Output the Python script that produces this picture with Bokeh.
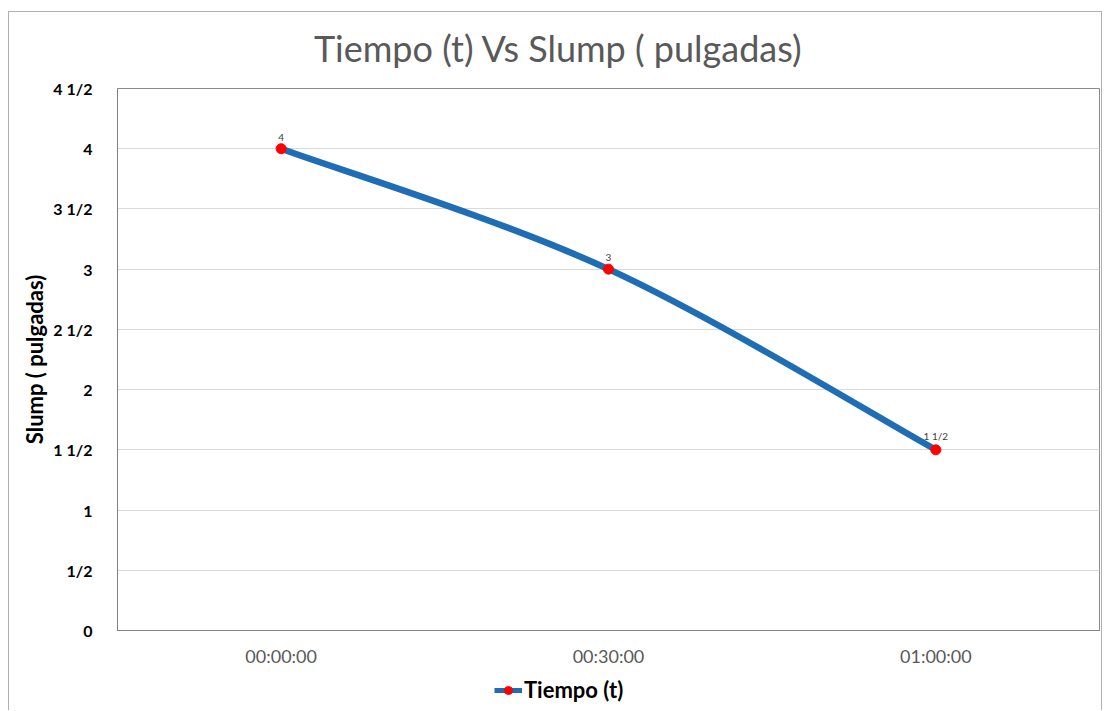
from bokeh.plotting import figure
from bokeh.layouts import column
from bokeh.models import FixedTicker, Range1d, Legend, LegendItem, ColumnDataSource, Label
from bokeh.core.properties import value
from bokeh.embed import file_html
from bokeh.resources import INLINE

# ---- data ----
categories = ["00:00:00", "00:30:00", "01:00:00"]
slump = [4.0, 3.0, 1.5]
y_ticks = [0, 0.5, 1, 1.5, 2, 2.5, 3, 3.5, 4, 4.5]
series_name = "Tiempo (t)"
title_text = "Tiempo (t) Vs Slump ( pulgadas)"
y_label = "Slump ( pulgadas)"


def frac(v):
    whole = int(v)
    half = abs(v - whole) > 1e-9
    if whole == 0 and half:
        return "1/2"
    if half:
        return f"{whole} 1/2"
    return f"{whole}"


xs = list(range(len(categories)))
FONT = "Lato"
BLUE = "#1F6DB5"
RED = "#FF0000"
W = 1092


def strip(h):
    s = figure(width=W, height=h, output_backend="svg", toolbar_location=None,
               x_range=Range1d(0, 1), y_range=Range1d(0, 1))
    s.axis.visible = False
    s.grid.visible = False
    s.outline_line_color = None
    s.min_border = 0
    return s


# title strip
tt = strip(64)
tt.add_layout(Label(x=0.449, y=0.44, text=title_text, text_font=FONT,
                    text_font_size="36px", text_color="#595959",
                    text_align="center", text_baseline="middle"))

p = figure(width=W, height=594, output_backend="svg", toolbar_location=None,
           x_range=Range1d(-0.5, len(categories) - 0.5), y_range=Range1d(0, 4.5))
p.min_border_left = 108
p.min_border_right = 2
p.min_border_top = 12
p.min_border_bottom = 40
p.background_fill_color = "white"
p.border_fill_color = "white"
p.outline_line_color = "#8C8C8C"
p.outline_line_width = 1

# axes
p.xaxis.ticker = FixedTicker(ticks=xs)
p.xaxis.major_label_overrides = {i: c for i, c in enumerate(categories)}
p.xaxis.major_label_text_font = FONT
p.xaxis.major_label_text_font_size = "18px"
p.xaxis.major_label_text_color = "#595959"
p.xaxis.major_label_standoff = 8
p.xaxis.axis_line_color = "#7F7F7F"
p.xaxis.major_tick_line_color = None
p.xaxis.minor_tick_line_color = None

p.yaxis.ticker = FixedTicker(ticks=y_ticks)
p.yaxis.major_label_overrides = {t: frac(t) for t in y_ticks}
p.yaxis.major_label_text_font = FONT
p.yaxis.major_label_text_font_size = "16px"
p.yaxis.major_label_text_font_style = "bold"
p.yaxis.major_label_text_color = "#000000"
p.yaxis.major_label_standoff = 19
p.yaxis.axis_line_color = "#7F7F7F"
p.yaxis.major_tick_line_color = None
p.yaxis.minor_tick_line_color = None
p.yaxis.axis_label = y_label
p.yaxis.axis_label_text_font = FONT
p.yaxis.axis_label_text_font_size = "22px"
p.yaxis.axis_label_text_font_style = "bold"
p.yaxis.axis_label_text_color = "#000000"
p.yaxis.axis_label_standoff = 2

p.xgrid.grid_line_color = None
p.ygrid.grid_line_color = "#D9D9D9"
p.ygrid.grid_line_width = 1

# smoothed line (Catmull-Rom -> cubic Bezier, computed from the data)
n = len(xs)
x0, y0, x1, y1, cx0, cy0, cx1, cy1 = [], [], [], [], [], [], [], []
for i in range(n - 1):
    pm = (xs[max(i - 1, 0)], slump[max(i - 1, 0)])
    pa = (xs[i], slump[i])
    pb = (xs[i + 1], slump[i + 1])
    pn = (xs[min(i + 2, n - 1)], slump[min(i + 2, n - 1)])
    x0.append(pa[0]); y0.append(pa[1]); x1.append(pb[0]); y1.append(pb[1])
    cx0.append(pa[0] + (pb[0] - pm[0]) / 6); cy0.append(pa[1] + (pb[1] - pm[1]) / 6)
    cx1.append(pb[0] - (pn[0] - pa[0]) / 6); cy1.append(pb[1] - (pn[1] - pa[1]) / 6)

p.bezier(x0=x0, y0=y0, x1=x1, y1=y1, cx0=cx0, cy0=cy0, cx1=cx1, cy1=cy1,
         line_color=BLUE, line_width=6.5)

src = ColumnDataSource(dict(x=xs, y=slump, lab=[frac(v) for v in slump]))
p.scatter(x="x", y="y", source=src, size=10, fill_color=RED,
          line_color=RED, marker="circle")
p.text(x="x", y="y", text="lab", source=src, text_font=value(FONT),
       text_font_size="10px", text_color="#404040", text_align="center",
       text_baseline="bottom", y_offset=-8)

# legend strip
lg = strip(40)
icon_line = lg.line(x=[0], y=[0], line_color=BLUE, line_width=5, visible=False)
icon_pt = lg.scatter(x=[0], y=[0], size=8, fill_color=RED, line_color=RED, visible=False)
legend = Legend(items=[LegendItem(label=series_name, renderers=[icon_line, icon_pt])],
                location=(377, 7), orientation="horizontal",
                label_text_font=FONT, label_text_font_size="22px",
                label_text_font_style="bold", label_text_color="#000000",
                border_line_color=None, background_fill_alpha=0,
                glyph_width=28, glyph_height=20, label_standoff=2,
                label_height=20, padding=2, margin=0)
lg.add_layout(legend, "center")

layout = column(tt, p, lg, spacing=0)
layout.styles = {"border-left": "1px solid #B0B0B0", "border-top": "1px solid #B0B0B0",
                 "border-right": "1px solid #B0B0B0", "margin-left": "8px", "margin-top": "11px"}

open("out.html", "w").write(file_html(layout, INLINE))
